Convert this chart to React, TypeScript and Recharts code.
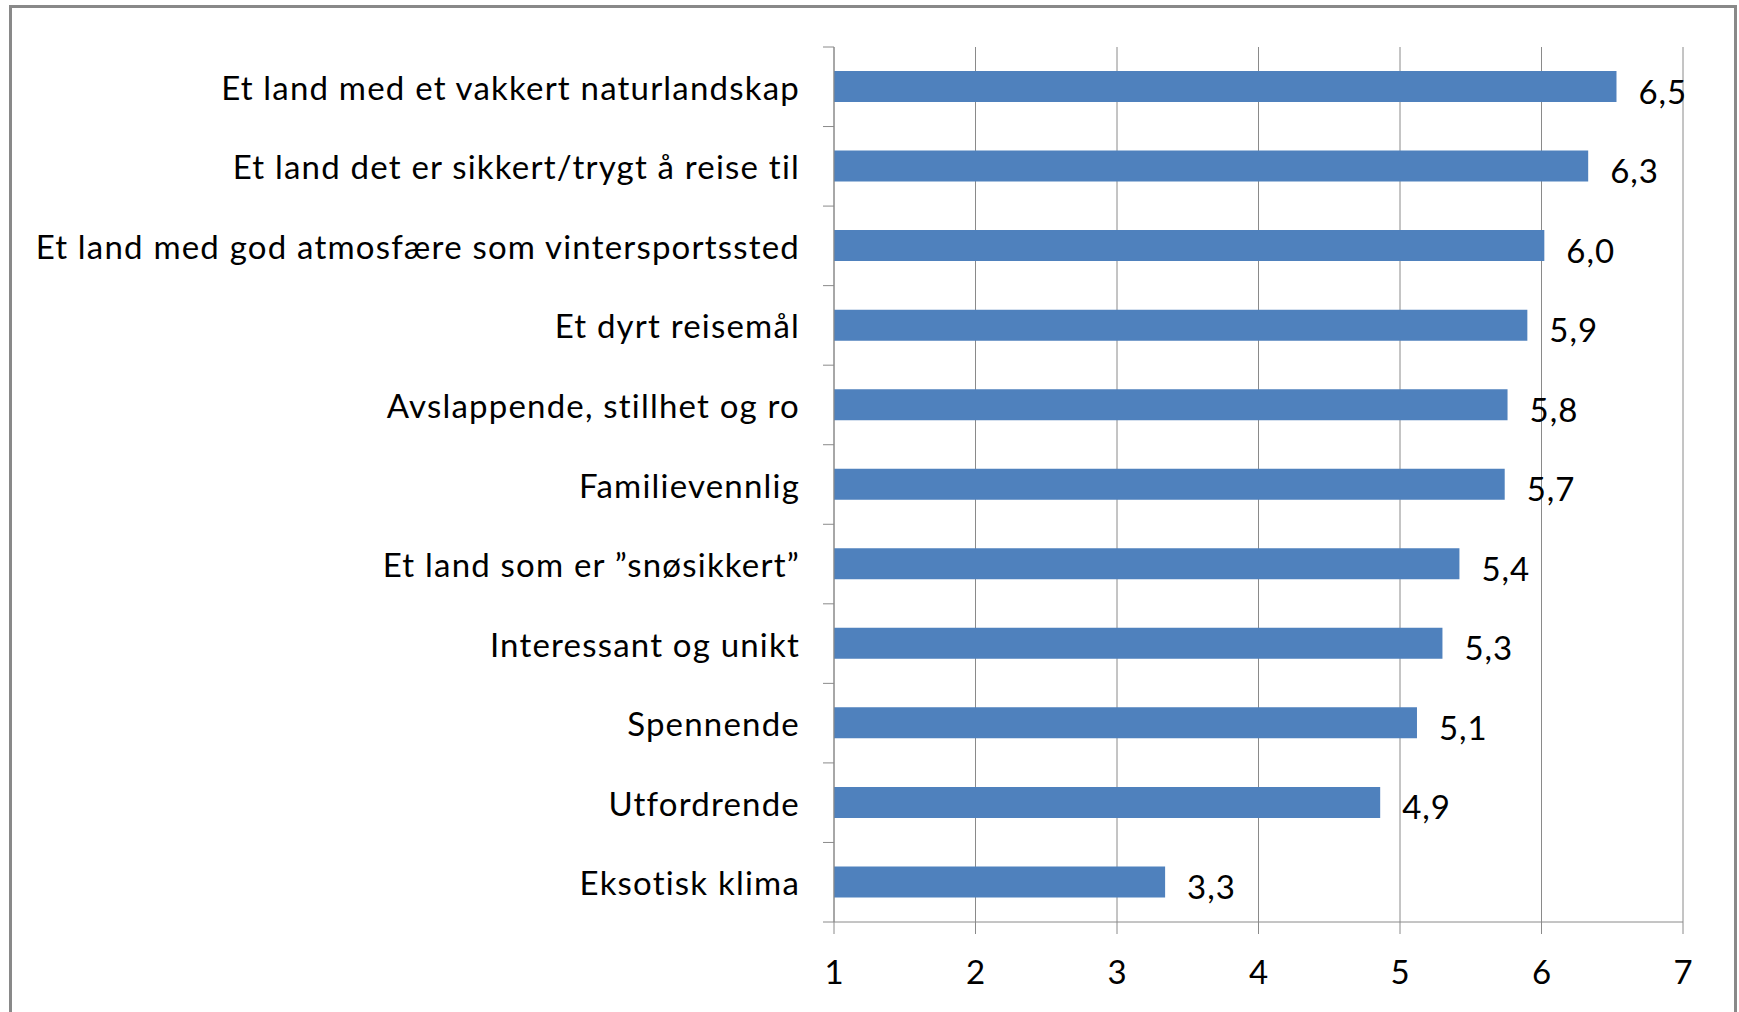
import { Bar, BarChart, CartesianGrid, LabelList, XAxis, YAxis } from "recharts";

const categories = [
  "Et land med et vakkert naturlandskap",
  "Et land det er sikkert/trygt å reise til",
  "Et land med god atmosfære som vintersportssted",
  "Et dyrt reisemål",
  "Avslappende, stillhet og ro",
  "Familievennlig",
  "Et land som er ”snøsikkert”",
  "Interessant og unikt",
  "Spennende",
  "Utfordrende",
  "Eksotisk klima",
];
const scores = [6.53, 6.33, 6.02, 5.9, 5.76, 5.74, 5.42, 5.3, 5.12, 4.86, 3.34];
const xTicks = [1, 2, 3, 4, 5, 6, 7];

const data = categories.map((name, i) => ({ name, v: scores[i] }));

const FONT = "Lato, 'Open Sans', sans-serif";
const AXIS = "#8a8a8a";
const LABEL_GAP = 34;
const fmt = (v: number) => v.toFixed(1).replace(".", ",");

function ValueLabel(props: any) {
  const { x, y, width, height, value } = props;
  return (
    <text
      x={x + width + 22}
      y={y + height / 2 + 4}
      dominantBaseline="central"
      fontFamily={FONT}
      fontSize={33}
      letterSpacing={1}
      fill="#000"
    >
      {fmt(value)}
    </text>
  );
}

// category label plus Excel-style tick marks on the band edges
function CategoryTick(props: any) {
  const { x, y, payload, index, visibleTicksCount } = props;
  const axisX = x + LABEL_GAP;
  const half = payload.offset ?? 0;
  const last = index === (visibleTicksCount ?? categories.length) - 1;
  return (
    <g>
      <line x1={axisX - 11} x2={axisX} y1={y - half} y2={y - half} stroke={AXIS} />
      {last && <line x1={axisX - 11} x2={axisX} y1={y + half} y2={y + half} stroke={AXIS} />}
      <text
        x={x}
        y={y}
        textAnchor="end"
        dominantBaseline="central"
        fontFamily={FONT}
        fontSize={33}
        letterSpacing={1.2}
        fill="#000"
      >
        {payload.value}
      </text>
    </g>
  );
}

export default function App() {
  return (
    <div
      style={{
        position: "fixed",
        left: 9,
        top: 5,
        width: 1728,
        height: 1020,
        border: "3px solid #898989",
        boxSizing: "border-box",
        background: "#fff",
      }}
    >
      <BarChart
        width={1722}
        height={1004}
        data={data}
        layout="vertical"
        margin={{ top: 39, right: 51, left: 0, bottom: 30 }}
        barCategoryGap={0}
      >
        <CartesianGrid horizontal={false} vertical stroke={AXIS} strokeWidth={1} />
        <XAxis
          type="number"
          domain={[1, 7]}
          ticks={xTicks}
          allowDataOverflow
          height={60}
          tickSize={12}
          tickMargin={27}
          stroke={AXIS}
          tick={{ fill: "#000", fontSize: 33, fontFamily: FONT }}
        />
        <YAxis
          type="category"
          dataKey="name"
          width={822}
          interval={0}
          tickLine={false}
          tickSize={0}
          tickMargin={LABEL_GAP}
          stroke={AXIS}
          tick={CategoryTick}
        />
        <Bar dataKey="v" fill="#4f81bd" barSize={31} isAnimationActive={false}>
          <LabelList dataKey="v" content={ValueLabel} />
        </Bar>
      </BarChart>
    </div>
  );
}
